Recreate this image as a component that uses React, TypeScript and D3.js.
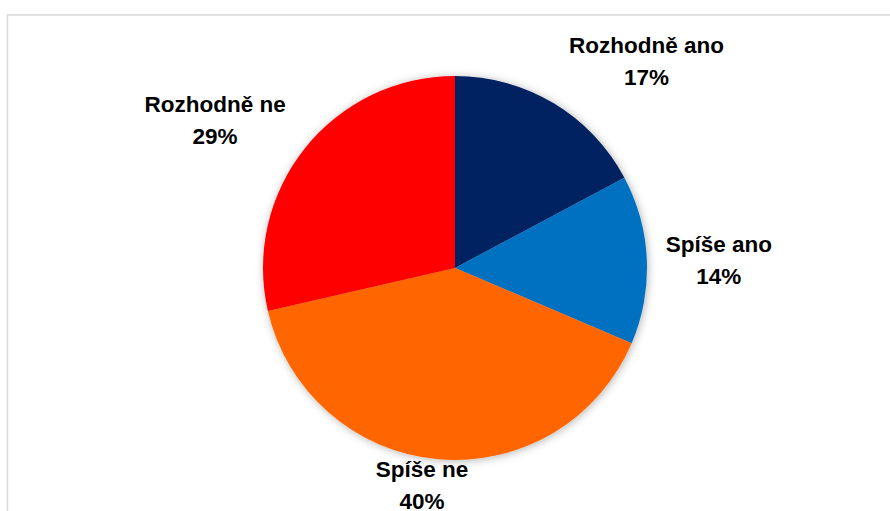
import React from "react";
import * as d3 from "d3";

const categories = ["Rozhodně ano", "Spíše ano", "Spíše ne", "Rozhodně ne"];
const values = [17.2, 14.2, 40.0, 28.6];
const colors = ["#002060", "#0070C0", "#FF6600", "#FF0000"];
// label placement tweaks (angle offset in degrees, distance from centre)
const labelAngleShift = [11.8, 0.8, 3.6, -6.8];
const labelDist = [282, 264, 219, 282];

const W = 890;
const H = 511;
const cx = 455;
const cy = 268;
const R = 192;

export default function App() {
  const data = categories.map((c, i) => ({ c, v: values[i], col: colors[i] }));
  const pie = d3.pie<any>().value((d: any) => d.v).sort(null);
  const arcs = pie(data);
  const arc = d3.arc<any>().innerRadius(0).outerRadius(R);
  const total = d3.sum(values);
  return (
    <svg width={W} height={H} style={{ position: "absolute", left: 0, top: 0 }}>
      <defs>
        <filter id="sh" x="-20%" y="-20%" width="140%" height="140%">
          <feDropShadow dx="1" dy="1" stdDeviation="4" floodColor="#000" floodOpacity="0.3" />
        </filter>
      </defs>
      <rect x={0} y={0} width={W} height={H} fill="#fff" />
      <rect x={7.5} y={15} width={W + 10} height={H + 10} fill="none" stroke="#d9d9d9" strokeWidth={1.5} />
      <g transform={`translate(${cx},${cy})`} filter="url(#sh)">
        {arcs.map((a, i) => (
          <path key={i} d={arc(a) as string} fill={a.data.col} />
        ))}
      </g>
      {arcs.map((a, i) => {
        const mid = (a.startAngle + a.endAngle) / 2 + (labelAngleShift[i] * Math.PI) / 180;
        const x = cx + Math.sin(mid) * labelDist[i];
        const y = cy - Math.cos(mid) * labelDist[i];
        const pct = Math.round((a.data.v / total) * 100) + "%";
        return (
          <text
            key={i}
            x={x}
            textAnchor="middle"
            fontFamily="'Liberation Sans', Arial, sans-serif"
            fontWeight="bold"
            fontSize={22.5}
            fill="#000"
          >
            <tspan x={x} y={y - 8}>{a.data.c}</tspan>
            <tspan x={x} y={y + 24}>{pct}</tspan>
          </text>
        );
      })}
    </svg>
  );
}
